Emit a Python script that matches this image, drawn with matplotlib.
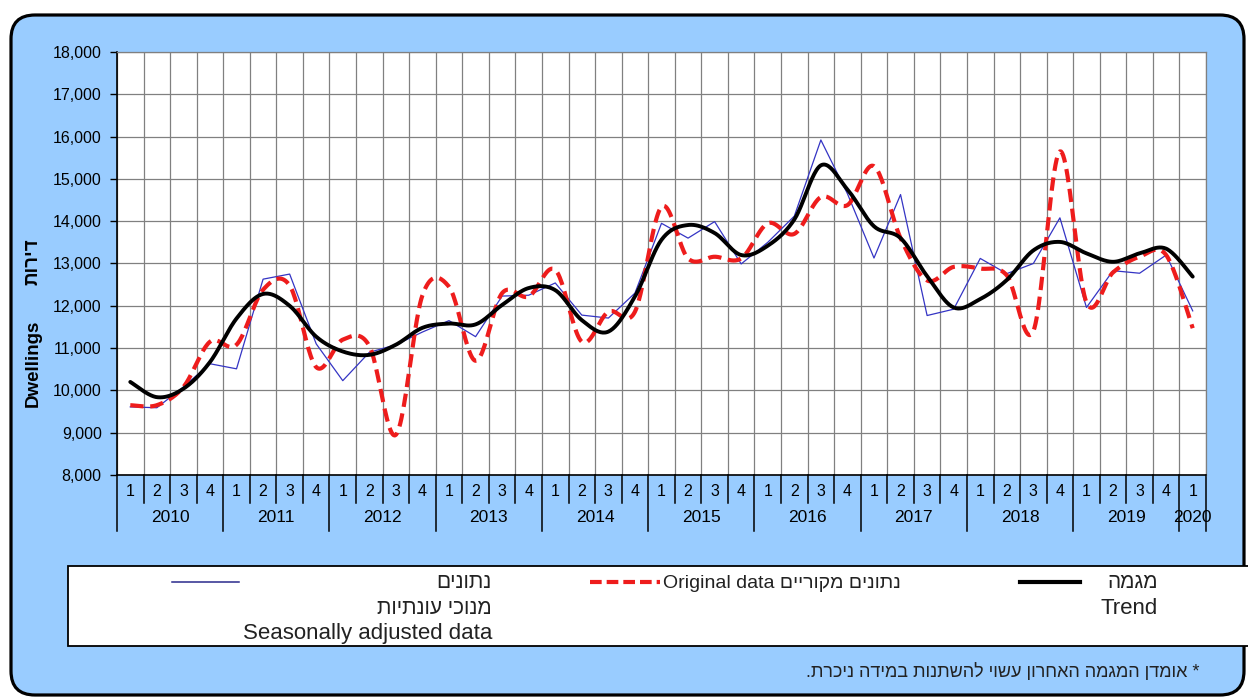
import matplotlib
matplotlib.use("Agg")
import matplotlib.pyplot as plt
import matplotlib.transforms as mtransforms
from matplotlib.patches import FancyBboxPatch, Rectangle
from matplotlib.lines import Line2D
import numpy as np

# quarterly dwelling starts, 2010Q1 .. 2020Q1
years = ["2010", "2011", "2012", "2013", "2014", "2015", "2016", "2017", "2018", "2019", "2020"]
quarter_labels = ["1", "2", "3", "4"] * 10 + ["1"]

original = [9650, 9650, 10080, 11150,
            11080, 12380, 12480, 10550,
            11200, 11050, 8950, 12250,
            12450, 10700, 12300, 12220,
            12850, 11150, 11860, 11860,
            14340, 13120, 13160, 13120,
            13950, 13700, 14570, 14380,
            15300, 13600, 12600, 12920,
            12880, 12720, 11400, 15650,
            12080, 12790, 13160, 13200,
            11470]

seasonal = [9610, 9590, 10080, 10630,
            10510, 12630, 12750, 11100,
            10230, 10900, 11080, 11380,
            11650, 11270, 12230, 12250,
            12540, 11780, 11710, 12300,
            13950, 13600, 13990, 12990,
            13500, 14120, 15920, 14650,
            13130, 14630, 11770, 11920,
            13120, 12760, 13000, 14080,
            11960, 12830, 12770, 13200,
            11880]

trend = [10200, 9840, 10040, 10670,
         11700, 12280, 12000, 11270,
         10920, 10840, 11080, 11480,
         11580, 11560, 12020, 12420,
         12370, 11660, 11390, 12220,
         13560, 13910, 13720, 13200,
         13420, 14040, 15320, 14750,
         13880, 13600, 12700, 11960,
         12160, 12610, 13310, 13510,
         13240, 13040, 13240, 13350,
         12690]

W, H = 1248, 698
BG = "#99ccff"
plt.rcParams["font.family"] = ["Liberation Sans", "DejaVu Sans"]


def heb(s):
    # matplotlib lays text out left to right, so Hebrew goes in visual order
    return s[::-1]


def fx(px):
    return px / W


def fy(py):
    return 1 - py / H


def smooth(x, y, n=24):
    # Bezier smoothing through every point, like a spreadsheet "smoothed line"
    x = np.asarray(x, float)
    y = np.asarray(y, float)
    px = np.concatenate([[x[0]], x, [x[-1]]])
    py = np.concatenate([[y[0]], y, [y[-1]]])
    t = np.linspace(0, 1, n, endpoint=False)[:, None]
    out = []
    for i in range(1, len(px) - 2):
        p0 = np.array([px[i - 1], py[i - 1]])
        p1 = np.array([px[i], py[i]])
        p2 = np.array([px[i + 1], py[i + 1]])
        p3 = np.array([px[i + 2], py[i + 2]])
        b1 = p1 + (p2 - p0) / 6
        b2 = p2 - (p3 - p1) / 6
        seg = ((1 - t) ** 3) * p1 + 3 * ((1 - t) ** 2) * t * b1 + 3 * (1 - t) * t ** 2 * b2 + t ** 3 * p2
        out.append(seg)
    out.append(np.array([[x[-1], y[-1]]]))
    out = np.vstack(out)
    return out[:, 0], out[:, 1]


fig = plt.figure(figsize=(W / 100, H / 100), dpi=100, facecolor="white")

# rounded blue panel behind everything
panel = FancyBboxPatch((11, 3), 1233, 680, boxstyle="round,pad=0,rounding_size=24",
                       transform=mtransforms.IdentityTransform(),
                       facecolor=BG, edgecolor="black", linewidth=2.3, zorder=0)
fig.add_artist(panel)

ax = fig.add_axes([fx(117), fy(475), fx(1206) - fx(117), fy(52) - fy(475)])
ax.set_facecolor("white")

n = len(original)
xc = np.arange(n) + 0.5

ax.plot(xc, seasonal, color="#3434c4", lw=0.9, zorder=3)
sx, sy = smooth(xc, original)
ax.plot(sx, sy, color="#ee1c1c", lw=3.0, linestyle=(0, (3.2, 1.6)), zorder=4)
tx, ty = smooth(xc, trend)
ax.plot(tx, ty, color="black", lw=2.8, zorder=5, solid_capstyle="round")

ax.set_xlim(0, n)
ax.set_ylim(8000, 18000)
ax.set_yticks(np.arange(8000, 18001, 1000))
ax.set_yticklabels([f"{v:,}" for v in range(8000, 18001, 1000)], fontsize=11.5)
ax.set_xticks(np.arange(0, n + 1), minor=True)
ax.set_xticks([])
ax.grid(which="minor", axis="x", color="#808080", lw=0.9)
ax.grid(which="major", axis="y", color="#808080", lw=0.9)
ax.set_axisbelow(True)
ax.tick_params(axis="y", length=5, width=1, pad=6, colors="black")
ax.tick_params(axis="x", which="both", length=0)
for side in ["top", "right"]:
    ax.spines[side].set_color("#808080")
    ax.spines[side].set_linewidth(0.9)
for side in ["left", "bottom"]:
    ax.spines[side].set_color("black")
    ax.spines[side].set_linewidth(1.2)

# category axis: quarter numbers, year labels and separators
blend = mtransforms.blended_transform_factory(ax.transData, ax.transAxes)
ah = 423.0
for k in range(n + 1):
    long_tick = (k % 4 == 0) or k == n
    depth = 56 if long_tick else 28
    ax.add_line(Line2D([k, k], [0, -depth / ah], transform=blend, color="black",
                       lw=1.1, clip_on=False))
for i, q in enumerate(quarter_labels):
    ax.text(i + 0.5, -17 / ah, q, transform=blend, ha="center", va="center", fontsize=11.5)
for j, yr in enumerate(years):
    xm = 4 * j + 2 if j < 10 else n - 0.5
    ax.text(xm, -42 / ah, yr, transform=blend, ha="center", va="center", fontsize=12.5)

fig.text(fx(33), fy(363), "Dwellings", rotation=90, ha="center", va="center",
         fontsize=13.5, fontweight="bold")
fig.text(fx(33), fy(262), heb("דירות"), rotation=90, ha="center", va="center",
         fontsize=13.5, fontweight="bold")

# legend box
fig.add_artist(Rectangle((68, H - 646), 1190, 80, transform=mtransforms.IdentityTransform(),
                         facecolor="white", edgecolor="black", lw=1.3, zorder=1))
fig.add_artist(Line2D([fx(172), fx(239)], [fy(582), fy(582)], color="#2a2a8c", lw=1.1, zorder=2))
fig.add_artist(Line2D([fx(590), fx(660)], [fy(582), fy(582)], color="#ee1c1c", lw=3.0,
                      linestyle=(0, (2.8, 1.2)), zorder=2))
fig.add_artist(Line2D([fx(1020), fx(1080)], [fy(582), fy(582)], color="black", lw=3.0, zorder=2))

ink = "#222222"
fig.text(fx(492), fy(583), heb("נתונים"), ha="right", va="center", fontsize=15, color=ink)
fig.text(fx(492), fy(609), heb("מנוכי עונתיות"), ha="right", va="center", fontsize=15, color=ink)
fig.text(fx(492), fy(634), "Seasonally adjusted data", ha="right", va="center", fontsize=16, color=ink)
fig.text(fx(663), fy(583), "Original data " + heb("נתונים מקוריים"), ha="left", va="center",
         fontsize=14, color=ink)
fig.text(fx(1158), fy(583), heb("מגמה"), ha="right", va="center", fontsize=15, color=ink)
fig.text(fx(1158), fy(608), "Trend", ha="right", va="center", fontsize=16, color=ink)

fig.text(fx(1200), fy(672), heb("* אומדן המגמה האחרון עשוי להשתנות במידה ניכרת."),
         ha="right", va="center", fontsize=13, color=ink)

fig.savefig("out.png", dpi=100, facecolor="white")
